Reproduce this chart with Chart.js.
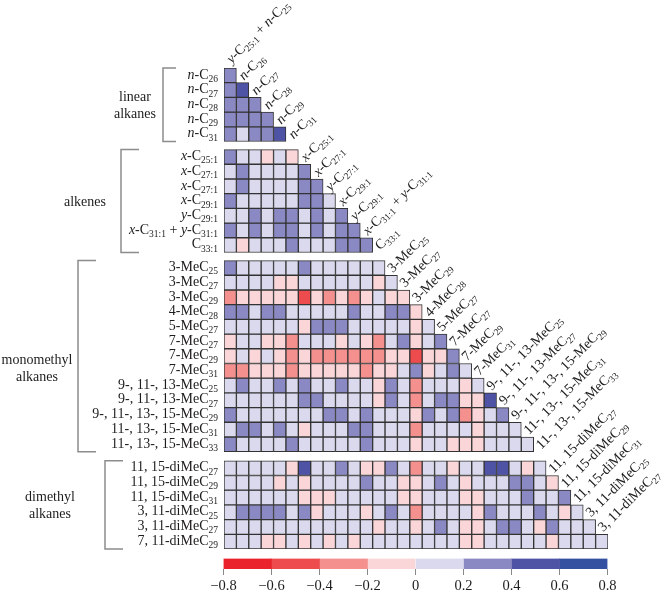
<!DOCTYPE html>
<html><head><meta charset="utf-8">
<script src="https://cdn.jsdelivr.net/npm/chart.js@4.4.1/dist/chart.umd.min.js"></script>
<style>
html,body{margin:0;padding:0;background:#fff;}
#wrap{position:relative;width:667px;height:595px;overflow:hidden;}
canvas{position:absolute;left:0;top:0;}
</style></head><body>
<div id="wrap">
<canvas id="m" width="667" height="595"></canvas>
<canvas id="cb" width="667" height="60" style="top:535px"></canvas>
</div>
<script>
// ---------- data ----------
// column / row variable names (markup: *italic*, _{subscript})
const colLabels = [
  "*y*-C_{25:1} + *n*-C_{25}",
  "*n*-C_{26}", "*n*-C_{27}", "*n*-C_{28}", "*n*-C_{29}", "*n*-C_{31}",
  "*x*-C_{25:1}", "*x*-C_{27:1}", "*y*-C_{27:1}", "*x*-C_{29:1}", "*y*-C_{29:1}", "*x*-C_{31:1} + *y*-C_{31:1}", "C_{33:1}",
  "3-MeC_{25}", "3-MeC_{27}", "3-MeC_{29}", "4-MeC_{28}", "5-MeC_{27}", "7-MeC_{27}", "7-MeC_{29}", "7-MeC_{31}",
  "9-, 11-, 13-MeC_{25}", "9-, 11-, 13-MeC_{27}", "9-, 11-, 13-, 15-MeC_{29}", "11-, 13-, 15-MeC_{31}", "11-, 13-, 15-MeC_{33}",
  "11, 15-diMeC_{27}", "11, 15-diMeC_{29}", "11, 15-diMeC_{31}", "3, 11-diMeC_{25}", "3, 11-diMeC_{27}"
];
const rowLabels = [
  "*n*-C_{26}", "*n*-C_{27}", "*n*-C_{28}", "*n*-C_{29}", "*n*-C_{31}",
  "*x*-C_{25:1}", "*x*-C_{27:1}", "*x*-C_{27:1}", "*x*-C_{29:1}", "*y*-C_{29:1}", "*x*-C_{31:1} + *y*-C_{31:1}", "C_{33:1}",
  "3-MeC_{25}", "3-MeC_{27}", "3-MeC_{29}", "4-MeC_{28}", "5-MeC_{27}", "7-MeC_{27}", "7-MeC_{29}", "7-MeC_{31}",
  "9-, 11-, 13-MeC_{25}", "9-, 11-, 13-MeC_{27}", "9-, 11-, 13-, 15-MeC_{29}", "11-, 13-, 15-MeC_{31}", "11-, 13-, 15-MeC_{33}",
  "11, 15-diMeC_{27}", "11, 15-diMeC_{29}", "11, 15-diMeC_{31}", "3, 11-diMeC_{25}", "3, 11-diMeC_{27}", "7, 11-diMeC_{29}"
];
const groupNames = [["linear","alkanes"],["alkenes"],["monomethyl","alkanes"],["dimethyl","alkanes"]];
const groupSizes = [5, 7, 13, 6];

// correlation values (lower triangle, row by row)
const linearVals = [
  [0.3],
  [0.3, 0.5],
  [0.3, 0.3, 0.3],
  [0.3, 0.3, 0.3, 0.3],
  [0.3, 0.1, 0.3, 0.3, 0.5]
];
const alkeneVals = [
  [0.3, 0.1, 0.1, -0.1, 0.1, -0.1],
  [0.1, 0.3, 0.1, 0.1, 0.1, 0.1, 0.3],
  [0.1, 0.3, 0.1, 0.1, 0.1, 0.1, 0.3, 0.3],
  [0.3, 0.1, 0.1, 0.1, 0.1, 0.1, 0.3, 0.3, 0.1],
  [0.1, 0.1, 0.3, 0.1, 0.3, 0.3, 0.1, 0.3, 0.1, 0.3],
  [0.3, 0.1, 0.3, 0.1, 0.3, 0.3, 0.1, 0.3, 0.1, 0.3, 0.3],
  [0.1, -0.1, 0.1, 0.1, 0.1, 0.3, 0.1, 0.1, 0.1, 0.3, 0.3, 0.3]
];
const monoVals = [
  [0.3,0.1,0.1,0.1,0.1,0.1,0.3,0.1,0.1,0.1,0.1,0.1,0.1],
  [0.1,0.1,0.1,0.1,-0.1,-0.1,0.1,0.1,0.1,0.1,0.1,0.1,-0.1,0.1],
  [-0.3,-0.1,-0.1,-0.1,-0.1,-0.1,-0.5,-0.1,-0.3,-0.1,-0.3,-0.1,0.1,-0.1,-0.1],
  [0.3,0.3,0.1,0.3,0.3,0.1,0.1,0.1,0.1,0.1,0.3,0.1,0.1,0.3,0.3,-0.1],
  [0.1,0.1,0.1,0.1,0.1,0.1,-0.1,0.3,0.3,0.3,0.1,0.1,0.1,0.1,0.1,-0.1,0.1],
  [-0.1,0.1,0.1,-0.1,-0.1,-0.3,0.1,0.1,0.1,-0.1,0.1,-0.1,-0.3,0.1,0.3,-0.1,0.1,0.3],
  [-0.1,0.1,-0.1,0.1,-0.1,-0.3,-0.1,-0.3,-0.3,-0.3,-0.3,-0.3,-0.3,-0.1,-0.1,-0.5,-0.1,-0.1,0.3],
  [-0.3,-0.3,-0.1,-0.1,-0.1,-0.3,-0.1,-0.1,-0.1,-0.1,-0.1,-0.3,-0.1,-0.1,0.1,0.3,-0.1,0.1,0.3,0.1],
  [0.1,0.3,0.1,0.1,0.3,0.1,0.3,0.1,0.1,0.3,0.1,0.1,-0.1,0.3,0.1,-0.3,0.1,0.1,0.1,-0.1,0.1],
  [0.1,0.1,0.1,0.1,0.1,0.1,0.3,0.3,0.1,0.1,0.1,0.1,-0.1,0.3,0.1,-0.3,0.1,0.3,0.3,-0.1,-0.1,0.5],
  [0.3,0.1,0.1,0.1,0.1,0.1,0.1,0.1,0.3,0.3,0.1,0.3,0.1,0.1,0.1,-0.1,0.3,0.1,0.3,-0.3,-0.1,0.1,0.3],
  [0.1,0.3,0.3,0.1,0.3,0.1,-0.1,0.1,0.1,0.1,0.3,0.3,0.1,0.1,0.1,-0.3,0.1,0.1,0.1,0.1,-0.1,0.1,0.1,0.1],
  [0.3,0.1,0.1,0.1,0.1,0.3,0.1,0.1,0.1,0.1,0.1,0.3,0.1,0.1,0.1,-0.1,0.1,0.1,-0.1,-0.1,-0.1,0.1,0.1,0.1,0.1]
];
const dimethylVals = [
  [0.1,0.1,0.1,0.1,0.1,-0.1,0.5,0.1,0.1,0.3,0.1,-0.1,-0.1,0.3,0.1,-0.3,0.1,0.1,-0.1,0.1,0.1,0.5,0.5,0.1,-0.1,0.1],
  [0.1,0.1,0.1,0.1,-0.1,0.1,-0.1,0.1,0.1,0.1,0.1,0.3,0.1,0.1,-0.1,-0.1,0.1,0.3,0.1,-0.1,0.1,0.1,0.1,0.3,0.3,0.1,-0.1],
  [0.1,0.1,0.1,0.1,0.1,0.1,-0.1,-0.1,-0.1,0.1,0.1,0.1,0.1,0.1,-0.1,-0.1,0.1,0.1,0.1,-0.1,-0.1,0.1,0.1,0.1,0.3,0.1,0.1,0.3],
  [0.1,0.3,0.3,0.3,0.3,0.1,0.3,-0.1,0.1,0.1,0.1,-0.1,0.1,0.3,0.1,-0.3,0.1,0.1,0.1,0.1,-0.1,0.3,0.1,0.1,0.1,0.3,0.1,-0.1,0.1],
  [0.1,0.1,0.1,0.1,0.1,0.1,0.1,0.1,0.1,0.1,0.1,0.1,-0.1,0.1,0.1,-0.1,0.1,0.3,0.1,-0.1,-0.1,0.1,0.3,0.3,0.1,-0.1,0.3,0.1,0.1,0.1],
  [0.1,0.1,0.1,-0.1,-0.1,0.1,-0.1,0.1,-0.1,0.1,-0.1,0.1,0.1,0.1,0.1,0.1,0.1,0.1,0.1,-0.1,-0.1,0.1,0.1,0.1,0.1,0.1,-0.1,0.1,0.1,0.1,0.1]
];

// colour scale
const binEdges = [-0.8, -0.6, -0.4, -0.2, 0, 0.2, 0.4, 0.6, 0.8];
const binColors = ['#E9222B','#EE4B4F','#F4918F','#FAD6D9','#DAD9ED','#8B89C4','#4F53A6','#3451A1'];
const scaleTicks = [-0.8, -0.6, -0.4, -0.2, 0, 0.2, 0.4, 0.6, 0.8];

// ---------- layout helpers ----------
const FAMILY = '"Liberation Serif", "Times New Roman", serif';
const MAIN_PX = 14, SUB_PX = 9.5, SUB_DY = 3.3;
const GAPS = [0.55, 0.55, 0.62];
const allRows = [...linearVals, ...alkeneVals, ...monoVals, ...dimethylVals];
const rowGroup = [];
groupSizes.forEach((n, g) => { for (let i = 0; i < n; i++) rowGroup.push(g); });
function rowTop(r) { let t = r; for (let g = 0; g < rowGroup[r]; g++) t += GAPS[g]; return t; }
const TOTAL = rowTop(allRows.length - 1) + 1;

function colorFor(v) {
  let i = Math.floor((v + 0.8) / 0.2 + 1e-9);
  return binColors[Math.max(0, Math.min(7, i))];
}

function parseRich(s) {
  const segs = []; let it = false, i = 0, buf = '';
  const push = (sub) => { if (buf) segs.push({t: buf, it, sub}); buf = ''; };
  while (i < s.length) {
    const ch = s[i];
    if (ch === '*') { push(false); it = !it; i++; }
    else if (ch === '_' && s[i+1] === '{') {
      push(false); const j = s.indexOf('}', i); buf = s.slice(i+2, j); push(true); i = j + 1;
    } else { buf += ch; i++; }
  }
  push(false);
  return segs;
}
function segFont(seg) { return (seg.it ? 'italic ' : '') + (seg.sub ? SUB_PX : MAIN_PX) + 'px ' + FAMILY; }
function drawRich(ctx, str, x, y, align) {
  const segs = parseRich(str);
  let w = 0;
  segs.forEach(s => { ctx.font = segFont(s); s.w = ctx.measureText(s.t).width; w += s.w; });
  let cx = align === 'right' ? x - w : x;
  ctx.textAlign = 'left'; ctx.textBaseline = 'alphabetic';
  segs.forEach(s => { ctx.font = segFont(s); ctx.fillText(s.t, cx, y + (s.sub ? SUB_DY : 0)); cx += s.w; });
}

const textPlugin = {
  id: 'richLabels',
  afterDraw(chart) {
    const ctx = chart.ctx, xs = chart.scales.x, ys = chart.scales.y;
    ctx.save();
    ctx.fillStyle = '#1e1c1d';
    // row labels
    rowLabels.forEach((lab, r) => {
      const yc = ys.getPixelForValue(rowTop(r) + 0.5);
      drawRich(ctx, lab, 218, yc + 3.2, 'right');
    });
    // diagonal column labels
    colLabels.forEach((lab, k) => {
      const ax = xs.getPixelForValue(k) + 1.5;
      const ay = k === 0 ? ys.getPixelForValue(0) - 4 : ys.getPixelForValue(rowTop(k - 1) + 1) - 2;
      ctx.save(); ctx.translate(ax, ay); ctx.rotate(-Math.PI / 4);
      drawRich(ctx, lab, 0, 0, 'left');
      ctx.restore();
    });
    // group brackets + names  [bracket x, tick end x, text centre x, text y shift]
    const brackets = [[163, 176, 135, 0], [121, 139, 85, 0], [78, 96, 37, 12], [105, 123, 50, 0]];
    let first = 0;
    groupSizes.forEach((n, g) => {
      const top = ys.getPixelForValue(rowTop(first));
      const bot = ys.getPixelForValue(rowTop(first + n - 1) + 1);
      const [bx, bx2, tx, dy] = brackets[g];
      ctx.strokeStyle = '#8c8c8c'; ctx.lineWidth = 1.5;
      ctx.beginPath(); ctx.moveTo(bx2, top); ctx.lineTo(bx, top); ctx.lineTo(bx, bot); ctx.lineTo(bx2, bot); ctx.stroke();
      const lines = groupNames[g];
      const mid = (top + bot) / 2 + dy;
      ctx.font = '14px ' + FAMILY; ctx.textAlign = 'center'; ctx.textBaseline = 'alphabetic';
      lines.forEach((t, i) => {
        const yy = mid + (i - (lines.length - 1) / 2) * 17 + 4.5;
        ctx.fillText(t, tx, yy);
      });
      first += n;
    });
    ctx.restore();
  }
};

const colIdx = colLabels.map((_, c) => c);
const datasets = allRows.map((vals, r) => ({
  label: rowLabels[r],
  data: colIdx.map(c => c < vals.length ? [rowTop(r), rowTop(r) + 1] : null),
  backgroundColor: colIdx.map(c => c < vals.length ? colorFor(vals[c]) : 'rgba(0,0,0,0)')
}));

new Chart(document.getElementById('m'), {
  type: 'bar',
  data: { labels: colIdx.map(String), datasets },
  options: {
    responsive: false, animation: false, devicePixelRatio: 1, events: [],
    layout: { padding: { left: 224, right: 59, top: 68, bottom: 46 } },
    plugins: { legend: { display: false }, tooltip: { enabled: false } },
    datasets: { bar: { grouped: false, barPercentage: 1, categoryPercentage: 1, borderWidth: 1, borderColor: '#333333', borderSkipped: false } },
    scales: {
      x: { type: 'category', display: false, offset: true },
      y: { type: 'linear', display: false, reverse: true, min: 0, max: TOTAL }
    }
  },
  plugins: [textPlugin]
});

function fmt(v) { return Math.abs(v) < 1e-9 ? '0' : (v < 0 ? '\u2212' : '') + Math.abs(v).toFixed(1); }

new Chart(document.getElementById('cb'), {
  type: 'bar',
  data: {
    labels: ['scale'],
    datasets: binColors.map((c, i) => ({ data: [[binEdges[i], binEdges[i + 1]]], backgroundColor: c, borderWidth: 0 }))
  },
  options: {
    indexAxis: 'y', responsive: false, animation: false, devicePixelRatio: 1, events: [],
    layout: { padding: { left: 223.5, right: 59.5, top: 23.5, bottom: 0 } },
    plugins: { legend: { display: false }, tooltip: { enabled: false } },
    datasets: { bar: { grouped: false, barPercentage: 1, categoryPercentage: 1 } },
    scales: {
      y: { display: false },
      x: {
        type: 'linear', min: -0.8, max: 0.8,
        afterBuildTicks: s => { s.ticks = scaleTicks.map(v => ({ value: v })); },
        afterFit: s => { s.height = 26; },
        ticks: { callback: v => fmt(v), color: '#1e1c1d', font: { family: FAMILY, size: 14.5 }, padding: 2, maxRotation: 0, autoSkip: false },
        grid: { drawOnChartArea: false, drawTicks: true, tickLength: 6, color: '#888888', lineWidth: 1 },
        border: { display: false }
      }
    }
  }
});
</script>
</body></html>
